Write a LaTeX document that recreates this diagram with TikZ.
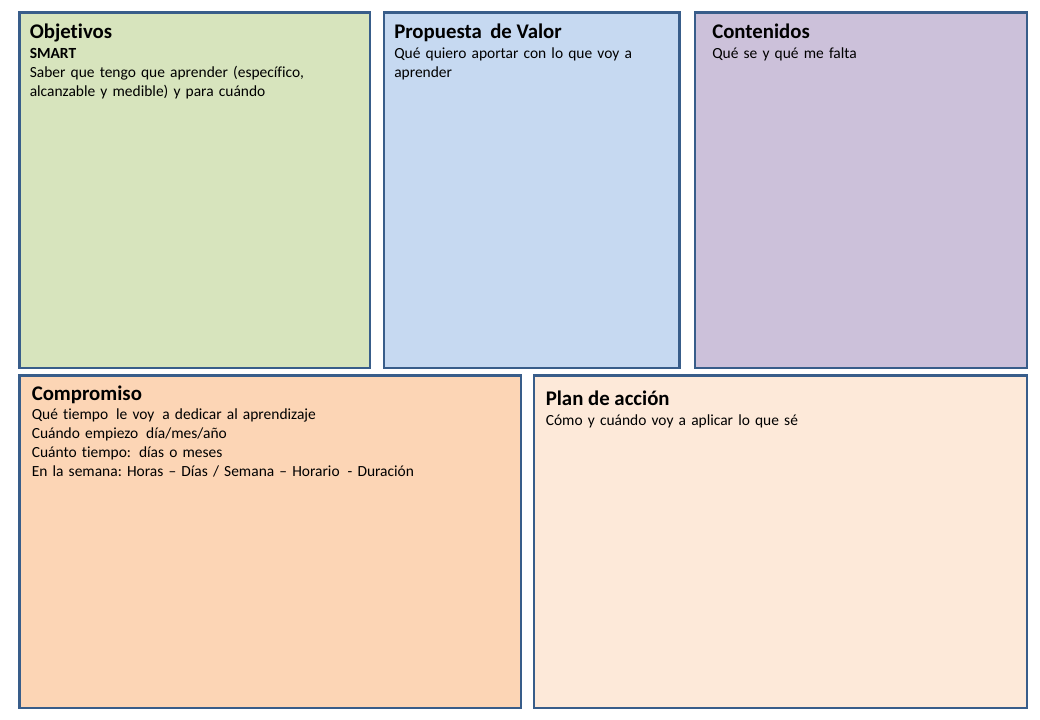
\documentclass[tikz,border=0pt]{standalone}
\usepackage{fontspec}
\setmainfont{Carlito}[Ligatures={TeX,NoCommon}]
\usetikzlibrary{positioning}
\definecolor{edge}{HTML}{385D8A}
\definecolor{objfill}{HTML}{D7E4BD}
\definecolor{valfill}{HTML}{C6D9F1}
\definecolor{confill}{HTML}{CCC1DA}
\definecolor{comfill}{HTML}{FCD5B5}
\definecolor{planfill}{HTML}{FDE9D9}
\newcommand{\gap}{\hspace{.18em}}
\frenchspacing

\begin{document}
\begin{tikzpicture}[
  x=0.025cm, y=-0.025cm,
  panel/.style={draw=edge, line width=2.1pt},
  ttl/.style={anchor=base west, inner sep=0pt, font=\fontsize{14.8}{17}\selectfont\bfseries},
  txt/.style={anchor=base west, inner sep=0pt, align=left, text width=10cm,
    font=\fontsize{11}{13.5}\selectfont}
]
\useasboundingbox (0,0) rectangle (1040,720);
% --- top row ---
\draw[panel, fill=objfill] (19.5,12.5) rectangle (370,368);
\draw[panel, fill=valfill] (384,12.5) rectangle (679.5,368);
\draw[panel, fill=confill] (695,12.5) rectangle (1027,368);
\node[ttl] (objT) at (29.5,38.5) {Objetivos};
\node[txt] (objB) at (29.5,58.5) {\textbf{SMART}\\
  Saber que tengo que aprender (específico,\\
  alcanzable y medible) y para cuándo};
\node[ttl] (valT) at (394,38.5) {Propuesta\gap{} de Valor};
\node[txt] (valB) at (394,59) {Qué quiero aportar con lo que voy a\\aprender};
\node[ttl] (conT) at (712,38.5) {Contenidos};
\node[txt] (conB) at (712,58.5) {Qué se y qué me falta};
% --- bottom row ---
\draw[panel, fill=comfill] (19.5,375.5) rectangle (521,708);
\draw[panel, fill=planfill] (534,375.5) rectangle (1027,708);
\node[ttl] (comT) at (31.5,400.5) {Compromiso};
\node[txt] (comB) at (31.5,420) {Qué tiempo\gap{} le voy\gap{} a dedicar al aprendizaje\\
  Cuándo empiezo\gap{} día/mes/año\\
  Cuánto tiempo:\gap{} días o meses\\
  En la semana: Horas -- Días / Semana -- Horario\gap{} - Duración};
\node[ttl] (planT) at (545.5,406) {Plan de acción};
\node[txt] (planB) at (545.5,426) {Cómo y cuándo voy a aplicar lo que sé};
\end{tikzpicture}
\end{document}
